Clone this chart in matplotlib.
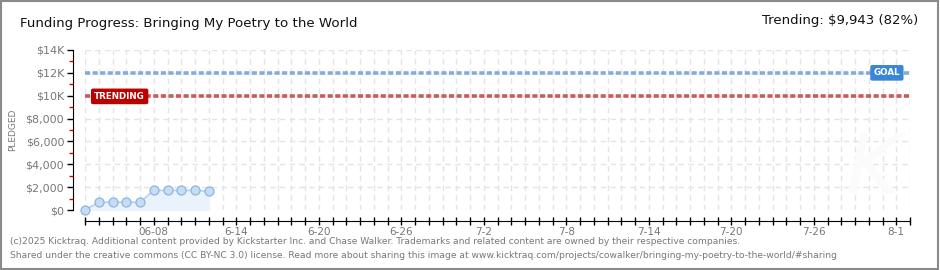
import datetime as dt
import matplotlib
matplotlib.use("Agg")
import matplotlib.pyplot as plt
import matplotlib.dates as mdates
from matplotlib.ticker import FixedLocator, MultipleLocator, FuncFormatter
from matplotlib.patches import Rectangle

# data
dates = ["2025-06-03", "2025-06-04", "2025-06-05", "2025-06-06", "2025-06-07",
         "2025-06-08", "2025-06-09", "2025-06-10", "2025-06-11", "2025-06-12"]
pledged = [0, 680, 680, 680, 680, 1720, 1720, 1720, 1720, 1620]
goal = 12000
trending = 9943
x_start, x_end = "2025-06-03", "2025-08-02"
tick_dates = ["2025-06-08", "2025-06-14", "2025-06-20", "2025-06-26", "2025-07-02",
              "2025-07-08", "2025-07-14", "2025-07-20", "2025-07-26", "2025-08-01"]
tick_labels = ["06-08", "6-14", "6-20", "6-26", "7-2", "7-8", "7-14", "7-20", "7-26", "8-1"]

to_d = lambda s: dt.datetime.strptime(s, "%Y-%m-%d")
xs = [to_d(d) for d in dates]

fig = plt.figure(figsize=(9.4, 2.7), dpi=100)
fig.patches.append(Rectangle((0.001, 0.002), 0.997, 0.995, transform=fig.transFigure,
                             fill=False, edgecolor="#8a8a8a", linewidth=1.5))

ax = fig.add_axes([85 / 940, 60 / 270, 825 / 940, 160 / 270])
ax.set_xlim(to_d(x_start), to_d(x_end))
ax.set_ylim(0, 14000)

# grid
for day in mdates.drange(to_d(x_start), to_d(x_end) + dt.timedelta(days=1), dt.timedelta(days=1)):
    ax.axvline(day, color="#e4e4e4", lw=1, ls=(0, (4, 3)), zorder=0)
for yv in range(2000, 14001, 2000):
    ax.axhline(yv, color="#e4e4e4", lw=1, ls=(0, (4, 3)), zorder=0)

# goal / trending lines
ax.axhline(goal, color="#86abdb", lw=2.6, ls=(0, (1.4, 0.7)), zorder=2)
ax.axhline(trending, color="#c95a5a", lw=2.6, ls=(0, (1.4, 0.7)), zorder=2)
ax.text(0.042, trending, "TRENDING", transform=ax.get_yaxis_transform(), ha="center", va="center",
        color="white", fontsize=6.3, fontweight="bold", zorder=5,
        bbox=dict(boxstyle="round,pad=0.3,rounding_size=0.15", fc="#bb0000", ec="#bb0000"))
ax.text(0.972, goal, "GOAL", transform=ax.get_yaxis_transform(), ha="center", va="center",
        color="white", fontsize=6.3, fontweight="bold", zorder=5,
        bbox=dict(boxstyle="round,pad=0.3,rounding_size=0.15", fc="#3a86d6", ec="#3a86d6"))

# pledged series
ax.fill_between(xs, pledged, 0, color="#eaf2fc", zorder=1)
ax.plot(xs, pledged, color="#b5d2f2", lw=1.2, marker="o", ms=6.5,
        mfc="#c4dcf6", mec="#93b4dc", mew=0.9, zorder=4, clip_on=False)

# watermark
ax.text(0.955, 0.25, "K", transform=ax.transAxes, fontsize=60, style="italic",
        color="#fbfbfb", ha="center", va="center", zorder=0)

# axes styling
for s in ["top", "right"]:
    ax.spines[s].set_visible(False)
ax.spines["left"].set_position(("outward", 9))
ax.spines["bottom"].set_position(("outward", 8))
ax.spines["left"].set_bounds(0, 14000)

ax.set_xticks(mdates.date2num([to_d(d) for d in tick_dates]))
ax.set_xticklabels(tick_labels)
ax.xaxis.set_minor_locator(mdates.DayLocator())
ax.tick_params(axis="x", which="both", direction="inout", length=6, width=1, color="black",
               labelsize=7.5, labelcolor="#777777", pad=1)

ax.yaxis.set_major_locator(MultipleLocator(2000))
ax.yaxis.set_minor_locator(MultipleLocator(1000))
ax.yaxis.set_major_formatter(FuncFormatter(
    lambda v, p: "$0" if v == 0 else (f"${int(v/1000)}K" if v >= 10000 else f"${int(v):,}")))
ax.tick_params(axis="y", which="major", direction="out", length=4, width=1, color="black",
               labelsize=8, labelcolor="#777777", pad=2)
ax.tick_params(axis="y", which="minor", direction="out", length=3, width=1, color="#dd0000")
ax.set_ylabel("PLEDGED", fontsize=6.5, color="#777777", labelpad=6)

# titles
fig.text(20 / 940, 1 - 23 / 270, "Funding Progress: Bringing My Poetry to the World",
         fontsize=9.6, color="#111111", va="center", ha="left")
fig.text(918 / 940, 1 - 21 / 270, "Trending: $9,943 (82%)",
         fontsize=9.5, color="#111111", va="center", ha="right")

# footer
fig.text(10 / 940, 1 - 242 / 270,
         "(c)2025 Kicktraq. Additional content provided by Kickstarter Inc. and Chase Walker. "
         "Trademarks and related content are owned by their respective companies.",
         fontsize=6.6, color="#777777", va="center", ha="left")
fig.text(10 / 940, 1 - 256 / 270,
         "Shared under the creative commons (CC BY-NC 3.0) license. Read more about sharing this image at "
         "www.kicktraq.com/projects/cowalker/bringing-my-poetry-to-the-world/#sharing",
         fontsize=6.6, color="#777777", va="center", ha="left")

fig.savefig("out.png", dpi=100)
